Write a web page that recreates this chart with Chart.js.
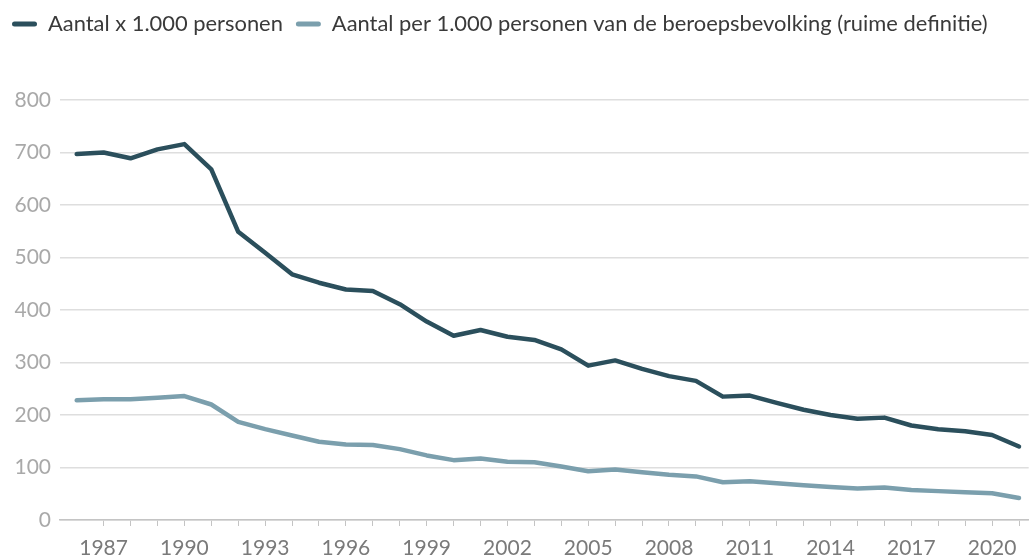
<!DOCTYPE html>
<html>
<head>
<meta charset="utf-8">
<script src="https://cdn.jsdelivr.net/npm/chart.js@4.4.1/dist/chart.umd.min.js"></script>
<style>
  html, body { margin: 0; padding: 0; background: #fff; }
  #wrap { width: 1029px; height: 560px; position: relative; }
</style>
</head>
<body>
<div id="wrap"><canvas id="grafiek"></canvas></div>
<script>
// jaren en waarden
var jaren = [1986, 1987, 1988, 1989, 1990, 1991, 1992, 1993, 1994, 1995, 1996, 1997,
             1998, 1999, 2000, 2001, 2002, 2003, 2004, 2005, 2006, 2007, 2008, 2009,
             2010, 2011, 2012, 2013, 2014, 2015, 2016, 2017, 2018, 2019, 2020, 2021];
var aantalPersonen = [697, 700, 689, 706, 716, 668, 549, 509, 468, 452, 439, 436,
                      411, 378, 351, 362, 349, 343, 325, 294, 304, 288, 274, 265,
                      235, 237, 223, 210, 200, 193, 195, 180, 173, 169, 162, 140];
var perDuizend = [228, 230, 230, 233, 236, 220, 187, 173, 161, 149, 144, 143,
                  135, 123, 114, 117, 111, 110, 102, 93, 96, 91, 86, 83,
                  72, 74, 70, 66, 63, 60, 62, 57, 55, 53, 51, 42];
var yTicks = [0, 100, 200, 300, 400, 500, 600, 700, 800];
var xLabelJaren = [1987, 1990, 1993, 1996, 1999, 2002, 2005, 2008, 2011, 2014, 2017, 2020];

var donker = '#2b4f5c';
var licht = '#7b9fad';

function punten(waarden) {
    return jaren.map(function(j, i){ return {x: j, y: waarden[i]}; });
}

var legendaHoogte = {
    id: 'legendaHoogte',
    beforeInit: function(chart){
        var fit = chart.legend.fit;
        chart.legend.fit = function(){
            fit.bind(chart.legend)();
            this.height = 100;
        };
    }
};

var ctx = document.getElementById('grafiek').getContext('2d');
var chart = new Chart(ctx, {
    type: 'line',
    data: {
        datasets: [{
            label: 'Aantal x 1.000 personen',
            data: punten(aantalPersonen),
            borderColor: donker,
            backgroundColor: donker,
            borderWidth: 4.5,
            pointRadius: 0,
            borderCapStyle: 'round',
            borderJoinStyle: 'round',
            tension: 0
        }, {
            label: 'Aantal per 1.000 personen van de beroepsbevolking (ruime definitie)',
            data: punten(perDuizend),
            borderColor: licht,
            backgroundColor: licht,
            borderWidth: 4.5,
            pointRadius: 0,
            borderCapStyle: 'round',
            borderJoinStyle: 'round',
            tension: 0
        }]
    },
    options: {
        responsive: true,
        maintainAspectRatio: false,
        animation: false,
        layout: { padding: { left: -1, right: 0, top: 0, bottom: 0 } },
        plugins: {
            tooltip: { enabled: false },
            legend: {
                position: 'top',
                align: 'start',
                labels: {
                    boxWidth: 25,
                    boxHeight: 5,
                    useBorderRadius: true,
                    borderRadius: 2.5,
                    padding: 13,
                    color: '#3a3a3a',
                    font: { family: 'Lato', size: 21.9 },
                    generateLabels: function(chart){
                        var items = Chart.defaults.plugins.legend.labels.generateLabels(chart);
                        items.forEach(function(it){ it.lineWidth = 0; });
                        return items;
                    }
                }
            }
        },
        scales: {
            x: {
                type: 'linear',
                min: 1985.38,
                max: 2021.36,
                afterBuildTicks: function(scale){
                    var t = [];
                    for (var j = 1987; j <= 2021; j++) t.push({value: j});
                    scale.ticks = t;
                },
                afterFit: function(scale){ scale.height = 40; },
                ticks: {
                    autoSkip: false,
                    maxRotation: 0,
                    padding: 10,
                    color: '#7a7a7a',
                    font: { family: 'Lato', size: 21 },
                    callback: function(v){
                        return xLabelJaren.indexOf(v) >= 0 ? String(v) : '';
                    }
                },
                grid: {
                    drawOnChartArea: false,
                    drawTicks: true,
                    tickLength: 6,
                    color: '#c4c4c4'
                },
                border: { display: true, color: '#c4c4c4', width: 1.5 }
            },
            y: {
                min: 0,
                max: 800,
                afterBuildTicks: function(scale){
                    scale.ticks = yTicks.map(function(v){ return {value: v}; });
                },
                afterFit: function(scale){ scale.width = 61; },
                ticks: {
                    padding: 9,
                    color: '#a9a9a9',
                    font: { family: 'Lato', size: 21 }
                },
                grid: {
                    drawTicks: false,
                    color: '#dedede',
                    lineWidth: 1.5
                },
                border: { display: false }
            }
        }
    },
    plugins: [legendaHoogte]
});
</script>
</body>
</html>
